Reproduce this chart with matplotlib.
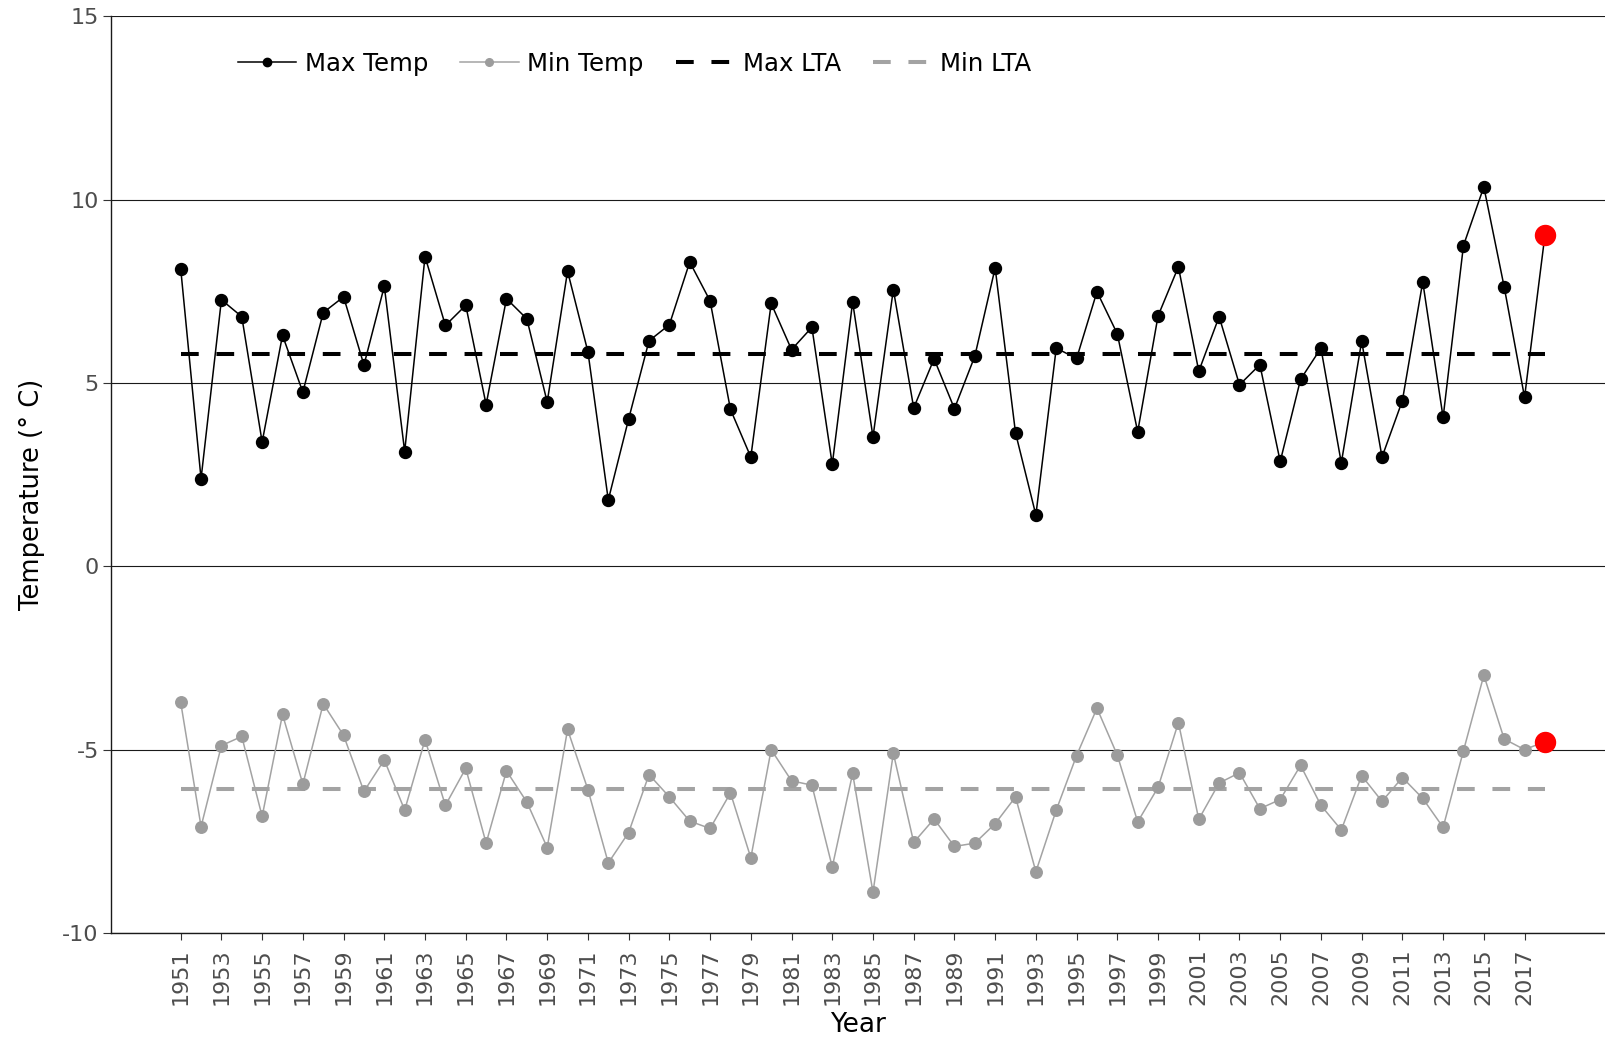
import matplotlib
matplotlib.use('Agg')
import matplotlib.pyplot as plt
from matplotlib.lines import Line2D

plt.rcParams['axes.unicode_minus'] = False

# Annual temperatures
years = list(range(1951, 2019))
max_temp = [8.12, 2.39, 7.27, 6.81, 3.39, 6.30, 4.75, 6.92, 7.35, 5.49,    # 1951-1960
            7.64, 3.13, 8.45, 6.57, 7.12, 4.41, 7.30, 6.75, 4.48, 8.05,    # 1961-1970
            5.85, 1.81, 4.02, 6.15, 6.59, 8.30, 7.24, 4.28, 2.98, 7.17,    # 1971-1980
            5.91, 6.52, 2.78, 7.21, 3.53, 7.55, 4.32, 5.66, 4.30, 5.73,    # 1981-1990
            8.14, 3.64, 1.40, 5.95, 5.67, 7.49, 6.34, 3.67, 6.83, 8.17,    # 1991-2000
            5.32, 6.81, 4.95, 5.50, 2.86, 5.10, 5.95, 2.82, 6.14, 2.98,    # 2001-2010
            4.52, 7.76, 4.06, 8.75, 10.35, 7.62, 4.61, 9.03]               # 2011-2018
min_temp = [-3.71, -7.10, -4.89, -4.64, -6.82, -4.04, -5.94, -3.75, -4.61, -6.14,
            -5.28, -6.65, -4.73, -6.52, -5.51, -7.55, -5.58, -6.43, -7.67, -4.45,
            -6.09, -8.09, -7.26, -5.68, -6.29, -6.95, -7.15, -6.18, -7.95, -5.00,
            -5.85, -5.97, -8.20, -5.65, -8.89, -5.10, -7.53, -6.89, -7.64, -7.55,
            -7.02, -6.29, -8.33, -6.65, -5.16, -3.87, -5.15, -6.97, -6.03, -4.26,
            -6.90, -5.91, -5.63, -6.61, -6.36, -5.43, -6.52, -7.19, -5.71, -6.41,
            -5.76, -6.33, -7.12, -5.03, -2.97, -4.71, -5.00, -4.78]
max_lta = 5.78
min_lta = -6.07
xtick_years = list(range(1951, 2018, 2))
yticks = [-10, -5, 0, 5, 10, 15]

black = '#000000'
grey = '#a3a3a3'
dash = (4.4, 4.4)

fig = plt.figure(figsize=(16.06, 10.43), dpi=100)
ax = fig.add_axes([0.0689, 0.1055, 0.9311, 0.8788])

# grid
for y in yticks:
    ax.axhline(y, color='#1a1a1a', lw=0.8, zorder=0)

# long-term averages
ax.plot([years[0], years[-1]], [max_lta, max_lta], color=black, lw=2.9,
        dashes=dash, zorder=2)
ax.plot([years[0], years[-1]], [min_lta, min_lta], color=grey, lw=2.9,
        dashes=dash, zorder=2)

# series
ax.plot(years, max_temp, color=black, lw=1.1, marker='o', ms=8.6, zorder=3)
ax.plot(years, min_temp, color=grey, lw=1.1, marker='o', ms=8.3,
        mfc='#9c9c9c', mec='#9c9c9c', zorder=3)
# latest year highlighted
ax.plot(years[-1], max_temp[-1], 'o', color='#ff0000', ms=14.4, zorder=4)
ax.plot(years[-1], min_temp[-1], 'o', color='#ff0000', ms=14.4, zorder=4)

ax.set_xlim(1947.56, 2021.0)
ax.set_ylim(-10, 15)
ax.set_xticks(xtick_years)
ax.set_xticklabels([str(y) for y in xtick_years], rotation=90)
ax.set_yticks(yticks)
ax.tick_params(axis='x', labelsize=16, colors='#4d4d4d', length=5, width=0.8, pad=6)
ax.tick_params(axis='y', labelsize=16, colors='#4d4d4d', length=5.5, width=0.8, pad=3)
ax.tick_params(color='#333333')

for s in ['top', 'right']:
    ax.spines[s].set_visible(False)
for s in ['left', 'bottom']:
    ax.spines[s].set_linewidth(1.0)
    ax.spines[s].set_color('#1a1a1a')

ax.set_xlabel('Year', fontsize=19, labelpad=5)
ax.set_ylabel('Temperature (° C)', fontsize=18.5)
ax.yaxis.set_label_coords(-0.044, 0.479)

handles = [
    Line2D([], [], color=black, lw=1.1, marker='o', ms=6),
    Line2D([], [], color=grey, lw=1.1, marker='o', ms=5.5, mfc='#9c9c9c', mec='#9c9c9c'),
    Line2D([], [], color=black, lw=2.9, dashes=dash),
    Line2D([], [], color=grey, lw=2.9, dashes=dash),
]
ax.legend(handles, ['Max Temp', 'Min Temp', 'Max LTA', 'Min LTA'],
          loc='center left', bbox_to_anchor=(0.085, 0.948), ncol=4,
          frameon=False, fontsize=17.6, handlelength=2.4, handletextpad=0.35,
          columnspacing=1.3, borderpad=0, borderaxespad=0)

plt.savefig('out.png', dpi=100)
